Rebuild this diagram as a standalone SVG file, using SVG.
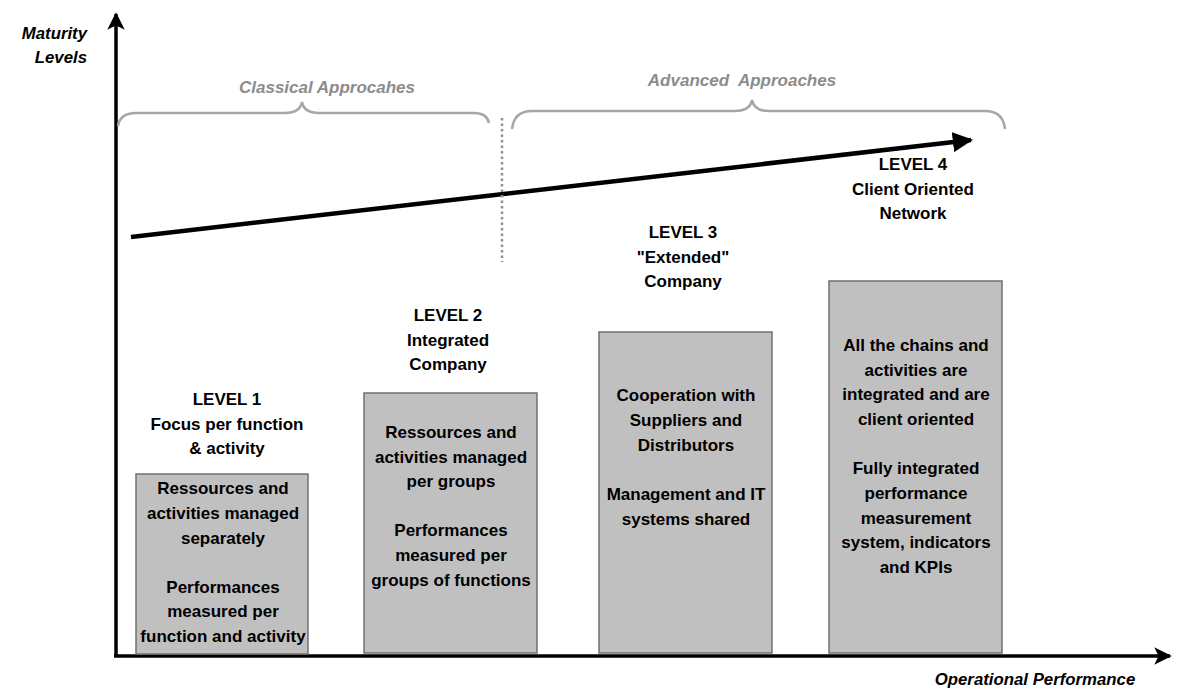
<svg xmlns="http://www.w3.org/2000/svg" width="1196" height="697" viewBox="0 0 1196 697">
<defs>
<style>
.t{font-family:"Liberation Sans",Arial,sans-serif;font-weight:bold;font-size:17px;fill:#000;text-anchor:middle}
.ax{font-family:"Liberation Sans",Arial,sans-serif;font-weight:bold;font-style:italic;font-size:16.8px;fill:#000}
.gr{font-family:"Liberation Sans",Arial,sans-serif;font-weight:bold;font-style:italic;font-size:17px;fill:#8c8c8c;text-anchor:middle}
.box{fill:#c0c0c0;stroke:#707070;stroke-width:1.5}
.brace{fill:none;stroke:#a6a6a6;stroke-width:2.5}
.axis{stroke:#000;stroke-width:3.5;fill:none}
</style>
<marker id="ah" viewBox="0 0 10 10" refX="9" refY="5" markerWidth="5" markerHeight="5" orient="auto" markerUnits="strokeWidth">
<path d="M0,0 L10,5 L0,10 L2.5,5 Z" fill="#000"/>
</marker>
<marker id="ah2" viewBox="0 0 10 10" refX="9" refY="5" markerWidth="4.5" markerHeight="4.5" orient="auto" markerUnits="strokeWidth">
<path d="M0,0 L10,5 L0,10 Z" fill="#000"/>
</marker>
</defs>
<rect width="1196" height="697" fill="#fff"/>
<g id="connectors">
<line class="axis" x1="116" y1="657" x2="116" y2="14" marker-end="url(#ah)"/>
<line class="axis" x1="114" y1="656" x2="1170" y2="656" marker-end="url(#ah)"/>
<line x1="131" y1="237" x2="971" y2="140" stroke="#000" stroke-width="4.5" marker-end="url(#ah2)"/>
<line x1="502" y1="118" x2="502" y2="262" stroke="#909090" stroke-width="2.5" stroke-dasharray="2.5,3"/>
<path class="brace" d="M118,126 Q120,113 136,113 L285,113 Q300,113 302,102 Q304,113 319,113 L474,113 Q487,113 489,123"/>
<path class="brace" d="M512,129 Q514,111 532,111 L735,111 Q750,111 752,100 Q754,111 769,111 L985,111 Q1003,111 1005,129"/>
</g>
<g id="axis-labels">
<text class="ax" x="87" y="39" text-anchor="end">Maturity</text>
<text class="ax" x="87" y="63" text-anchor="end">Levels</text>
<text class="ax" x="1035" y="685" text-anchor="middle">Operational Performance</text>
<text class="gr" x="327" y="93">Classical Approcahes</text>
<text class="gr" x="742" y="86">Advanced&#160; Approaches</text>
</g>
<g id="level1">
<text class="t" x="227" y="405">LEVEL 1</text>
<text class="t" x="227" y="430">Focus per function</text>
<text class="t" x="227" y="454">&amp; activity</text>
<rect class="box" x="136" y="474" width="172" height="180"/>
<text class="t" x="223" y="494">Ressources and</text>
<text class="t" x="223" y="519">activities managed</text>
<text class="t" x="223" y="544">separately</text>
<text class="t" x="223" y="593">Performances</text>
<text class="t" x="223" y="617">measured per</text>
<text class="t" x="223" y="642">function and activity</text>
</g>
<g id="level2">
<text class="t" x="448" y="321">LEVEL 2</text>
<text class="t" x="448" y="346">Integrated</text>
<text class="t" x="448" y="370">Company</text>
<rect class="box" x="364" y="393" width="173" height="260"/>
<text class="t" x="451" y="438">Ressources and</text>
<text class="t" x="451" y="463">activities managed</text>
<text class="t" x="451" y="487">per groups</text>
<text class="t" x="451" y="536">Performances</text>
<text class="t" x="451" y="561">measured per</text>
<text class="t" x="451" y="586">groups of functions</text>
</g>
<g id="level3">
<text class="t" x="683" y="238">LEVEL 3</text>
<text class="t" x="683" y="263">"Extended"</text>
<text class="t" x="683" y="287">Company</text>
<rect class="box" x="599" y="332" width="173" height="321"/>
<text class="t" x="686" y="401">Cooperation with</text>
<text class="t" x="686" y="426">Suppliers and</text>
<text class="t" x="686" y="451">Distributors</text>
<text class="t" x="686" y="500">Management and IT</text>
<text class="t" x="686" y="525">systems shared</text>
</g>
<g id="level4">
<text class="t" x="913" y="170">LEVEL 4</text>
<text class="t" x="913" y="195">Client Oriented</text>
<text class="t" x="913" y="219">Network</text>
<rect class="box" x="829" y="281" width="173" height="372"/>
<text class="t" x="916" y="351">All the chains and</text>
<text class="t" x="916" y="376">activities are</text>
<text class="t" x="916" y="400">integrated and are</text>
<text class="t" x="916" y="425">client oriented</text>
<text class="t" x="916" y="474">Fully integrated</text>
<text class="t" x="916" y="499">performance</text>
<text class="t" x="916" y="524">measurement</text>
<text class="t" x="916" y="548">system, indicators</text>
<text class="t" x="916" y="573">and KPIs</text>
</g>
</svg>
